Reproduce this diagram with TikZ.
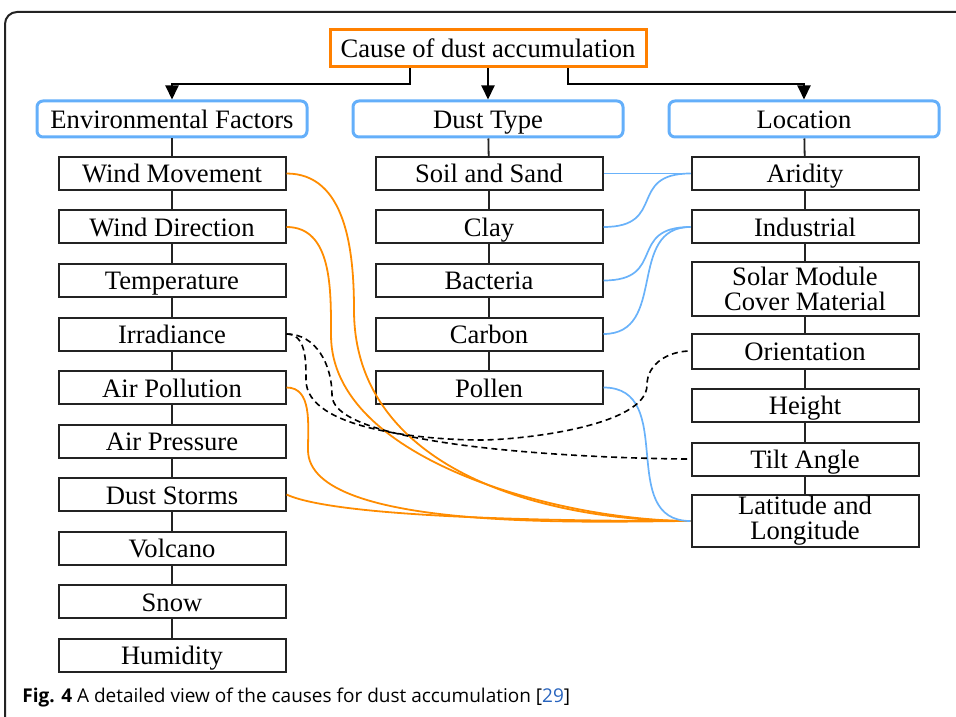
\documentclass[tikz,border=0pt]{standalone}
\usepackage{fontspec}
\setmainfont{Liberation Serif}
\newfontfamily\capfont{Open Sans}
\usetikzlibrary{arrows.meta}
\definecolor{causeorange}{RGB}{255,128,0}
\definecolor{linkorange}{RGB}{255,140,0}
\definecolor{groupblue}{RGB}{100,175,250}
\definecolor{linkblue}{RGB}{105,178,250}
\definecolor{citeblue}{RGB}{40,100,190}
\definecolor{framegray}{RGB}{35,35,35}

\begin{document}
\begin{tikzpicture}[x=0.5pt,y=-0.5pt,
  font=\fontsize{13.3}{12.5}\selectfont,
  causebox/.style={draw=causeorange, line width=1.5pt, minimum width=158pt, minimum height=18.5pt, inner sep=0pt, text height=11.3pt, text depth=2.3pt},
  groupbox/.style={draw=groupblue, line width=1.5pt, rounded corners=3pt, minimum width=135pt, minimum height=18pt, inner sep=0pt, text height=11.5pt, text depth=1.8pt},
  boxbase/.style={draw=framegray, line width=1pt, minimum width=113.5pt, minimum height=16.5pt, inner sep=0pt, align=center},
  itembox/.style={boxbase, text height=11.5pt, text depth=2pt},
  pairbox/.style={boxbase},
  treeline/.style={draw=framegray, line width=0.9pt},
  treearrow/.style={line width=1pt, -{Triangle[width=6.5pt,length=7pt]}},
  orangelink/.style={draw=linkorange, line width=0.9pt},
  bluelink/.style={draw=linkblue, line width=0.85pt},
  dashlink/.style={line width=0.8pt, dash pattern=on 3pt off 2pt}
]
\useasboundingbox (0,0) rectangle (956,716);
\draw[framegray, line width=1pt, rounded corners=6pt] (970,12) -- (5,12) -- (5,730);

% top of the tree
\node[causebox] (cause) at (488,48.5) {Cause of dust accumulation};
\node[groupbox] (env) at (172,119) {Environmental Factors};
\node[groupbox] (dust) at (488,119) {Dust Type};
\node[groupbox] (loc) at (804,119) {Location};

\draw[treearrow] ([xshift=-39pt]cause.south) -- ++(0,16) -| (env.north);
\draw[treearrow] (cause.south) -- (dust.north);
\draw[treearrow] ([xshift=40pt]cause.south) -- ++(0,16) -| (loc.north);

% environmental factors
\node[itembox] (wmove) at (172,173.5) {Wind Movement};
\node[itembox] (wdir) at (172,227) {Wind Direction};
\node[itembox] (temp) at (172,280.5) {Temperature};
\node[itembox] (irr) at (172,334) {Irradiance};
\node[itembox] (apoll) at (172,387.5) {Air Pollution};
\node[itembox] (apress) at (172,441) {Air Pressure};
\node[itembox] (storm) at (172,494.5) {Dust Storms};
\node[itembox] (volc) at (172,548) {Volcano};
\node[itembox] (snow) at (172,601.5) {Snow};
\node[itembox] (humid) at (172,655) {Humidity};

% dust type
\node[itembox] (soil) at (489,173.5) {Soil and Sand};
\node[itembox] (clay) at (489,227) {Clay};
\node[itembox] (bact) at (489,280.5) {Bacteria};
\node[itembox] (carb) at (489,334) {Carbon};
\node[itembox] (pollen) at (489,387.5) {Pollen};

% location
\node[itembox] (arid) at (805,173.5) {Aridity};
\node[itembox] (indus) at (805,227) {Industrial};
\node[pairbox, minimum height=27pt] (solar) at (805,289) {Solar Module\\Cover Material};
\node[itembox, minimum height=17.5pt] (orient) at (805,351) {Orientation};
\node[itembox] (height) at (805,405) {Height};
\node[itembox] (tilt) at (805,459) {Tilt Angle};
\node[pairbox, minimum height=26pt] (latlon) at (805,521) {Latitude and\\Longitude};

\foreach \a/\b in {env/wmove, wmove/wdir, wdir/temp, temp/irr, irr/apoll, apoll/apress,
  apress/storm, storm/volc, volc/snow, snow/humid,
  dust/soil, soil/clay, clay/bact, bact/carb, carb/pollen,
  loc/arid, arid/indus, indus/solar, solar/orient, orient/height, height/tilt, tilt/latlon}
  \draw[treeline] (\a) -- (\b);

% links to latitude and longitude
\draw[orangelink] (wmove.east) to[out=0,in=90] (354,310) to[out=-90,in=180] (latlon.west);
\draw[orangelink] (wdir.east) to[out=0,in=90] (331,335) to[out=-90,in=180,looseness=0.8] (latlon.west);
\draw[orangelink] (apoll.east) to[out=0,in=90] (308,450) to[out=-90,in=180,looseness=0.55] (latlon.west);
\draw[orangelink] (storm.east) to[out=-25,in=180,looseness=0.4] (latlon.west);

% dust type to location
\draw[bluelink] (soil.east) -- (arid.west);
\draw[bluelink] (clay.east) to[out=0,in=180,looseness=1.6] (arid.west);
\draw[bluelink] (bact.east) to[out=0,in=180,looseness=1.6] (indus.west);
\draw[bluelink] (carb.east) to[out=0,in=180,looseness=1.2] (indus.west);
\draw[bluelink] (pollen.east) to[out=0,in=180,looseness=1.2] (latlon.west);

% irradiance
\draw[dashlink] (irr.east) to[out=0,in=90] (306,380) to[out=-90,in=180,looseness=0.7] (480,440)
  to[out=0,in=-90,looseness=0.6] (647,385) to[out=90,in=180] (orient.west);
\draw[dashlink] (irr.east) to[out=0,in=90] (332,395) to[out=-90,in=180,looseness=0.4] (tilt.west);

\node[anchor=base west, inner sep=0pt, font=\capfont\fontsize{9.5}{11}\selectfont] (caption) at (22,702)
  {\textbf{Fig. 4} A detailed view of the causes for dust accumulation [\textcolor{citeblue}{29}]};
\end{tikzpicture}
\end{document}
